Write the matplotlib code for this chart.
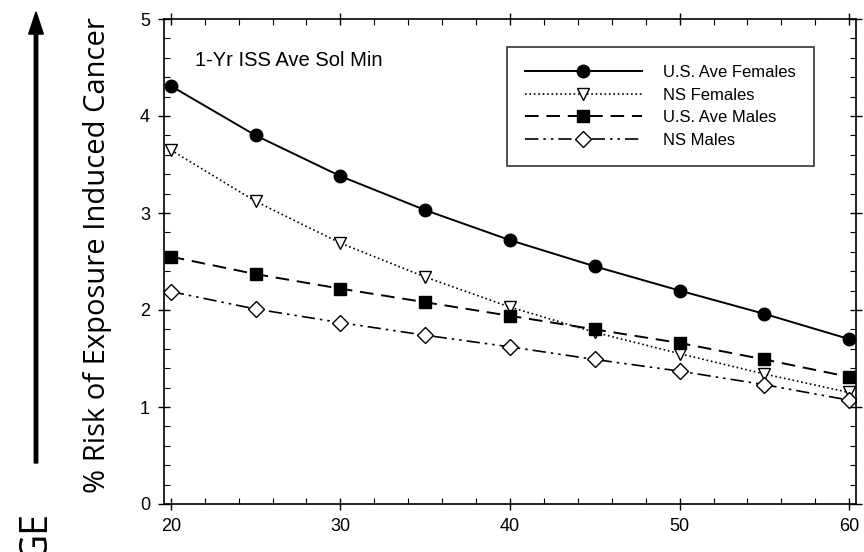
import numpy as np
import matplotlib.pyplot as plt
from matplotlib.ticker import MultipleLocator

age = [20, 25, 30, 35, 40, 45, 50, 55, 60]
us_females = [4.31, 3.80, 3.38, 3.03, 2.72, 2.45, 2.20, 1.96, 1.70]
ns_females = [3.65, 3.12, 2.69, 2.34, 2.03, 1.77, 1.55, 1.34, 1.15]
us_males = [2.55, 2.37, 2.22, 2.08, 1.94, 1.80, 1.66, 1.49, 1.31]
ns_males = [2.19, 2.01, 1.87, 1.74, 1.62, 1.49, 1.37, 1.23, 1.07]

plt.rcParams['font.family'] = ['Liberation Sans', 'DejaVu Sans']

fig = plt.figure(figsize=(8.64, 5.52), dpi=100)
ax = fig.add_axes([164 / 864, 48 / 552, 692 / 864, 485 / 552])

ax.plot(age, us_females, 'k-', marker='o', ms=9, lw=1.4, label='U.S. Ave Females')
ax.plot(age, ns_females, 'k:', marker='v', ms=9, mfc='white', lw=1.2, label='NS Females')
ax.plot(age, us_males, 'k--', marker='s', ms=8, lw=1.4, dashes=(7, 4), label='U.S. Ave Males')
ax.plot(age, ns_males, 'k', marker='D', ms=8, mfc='white', lw=1.2,
        dashes=(8, 3, 1.5, 3, 1.5, 3), label='NS Males')

ax.set_xlim(19.6, 60.4)
ax.set_ylim(0, 5)
ax.xaxis.set_major_locator(MultipleLocator(10))
ax.xaxis.set_minor_locator(MultipleLocator(2))
ax.yaxis.set_major_locator(MultipleLocator(1))
ax.yaxis.set_minor_locator(MultipleLocator(0.2))
ax.tick_params(which='major', direction='inout', length=8, width=1,
               top=True, right=True, labelsize=13, pad=6)
ax.tick_params(which='minor', direction='in', length=4, width=0.8,
               top=True, right=True)
for s in ax.spines.values():
    s.set_linewidth(1.2)

ax.text(0.045, 0.935, '1-Yr ISS Ave Sol Min', transform=ax.transAxes,
        fontsize=14.5, va='top')

leg = ax.legend(loc='upper right', bbox_to_anchor=(0.952, 0.96), handlelength=7,
                fontsize=12, frameon=True, fancybox=False, edgecolor='black',
                borderpad=1.1, labelspacing=0.45, handletextpad=1.3)
leg.get_frame().set_linewidth(1.2)

fig.text(98 / 864, 1 - 255 / 552, '% Risk of Exposure Induced Cancer', rotation=90,
         fontsize=21, family='Open Sans', ha='center', va='center')

# arrow on the far left
fig.patches.append(plt.matplotlib.patches.FancyArrow(
    36 / 864, 1 - 463 / 552, 0, (463 - 12) / 552, width=0.004,
    head_width=0.017, head_length=0.04, length_includes_head=True,
    color='black', transform=fig.transFigure, figure=fig))
fig.text(36 / 864, 1 - 511 / 552, 'GE', rotation=90, fontsize=27, family='Open Sans',
         ha='center', va='top')

fig.savefig('out.png', dpi=100)
